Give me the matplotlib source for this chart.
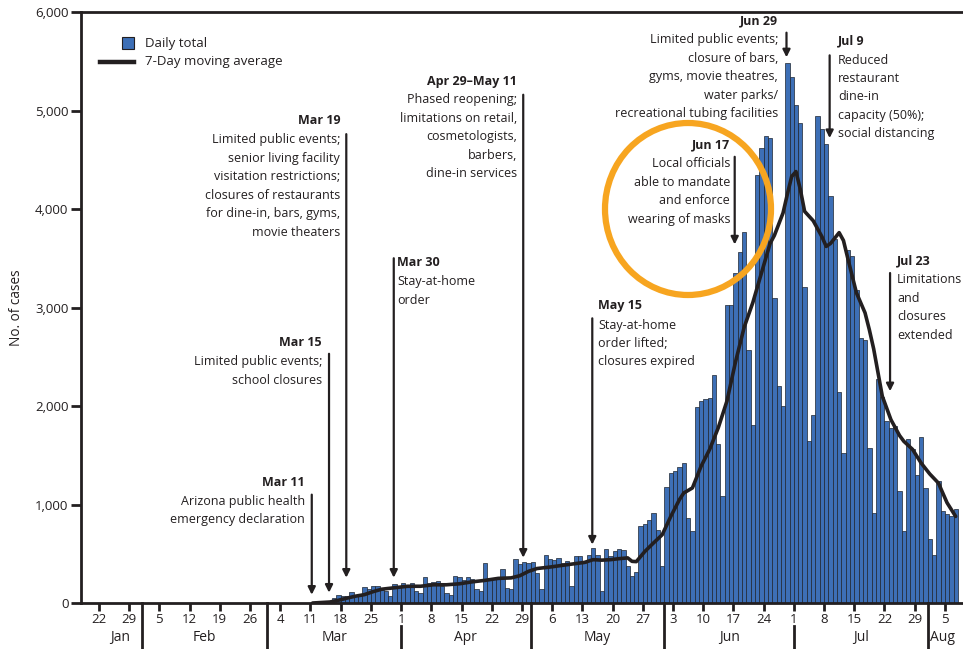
import matplotlib
matplotlib.use("Agg")
import matplotlib.pyplot as plt
import matplotlib.dates as mdates
import matplotlib.transforms as mtransforms
from matplotlib.patches import Rectangle, Ellipse
from matplotlib.lines import Line2D
import pandas as pd

plt.rcParams["font.family"] = ["Open Sans", "DejaVu Sans"]

INK = "#231f20"
BAR = "#3d6fb6"
ORANGE = "#f7a520"

# ── Data ──────────────────────────────────────────────────────────────────────
first_day = "2020-03-11"
daily_cases = [
    # Mar 11 - Mar 31
    2, 4, 6, 8, 15, 51, 78, 68, 68, 111, 74, 74, 162, 142, 169, 169, 128, 118, 74, 189, 169,
    # Apr 1 - Apr 30
    199, 169, 199, 118, 101, 264, 203, 216, 223, 169, 101, 84, 270, 260, 233, 264, 247, 139,
    118, 409, 254, 254, 250, 348, 156, 139, 443, 399, 420, 410,
    # May 1 - May 31
    415, 305, 145, 490, 447, 440, 460, 405, 423, 176, 474, 474, 405, 490, 562, 484, 125, 548,
    474, 524, 548, 541, 372, 270, 311, 785, 805, 846, 914, 745, 379,
    # Jun 1 - Jun 30
    1174, 1320, 1337, 1385, 1418, 863, 727, 1993, 2046, 2074, 2080, 2311, 1611, 1085, 3024,
    3024, 3351, 3568, 3770, 2572, 1810, 4348, 4620, 4740, 4718, 3100, 2200, 2000, 5480, 5340,
    # Jul 1 - Jul 31
    5060, 4870, 3210, 1640, 1912, 4940, 4810, 4660, 4130, 3700, 2140, 1526, 3588, 3520, 3180,
    2690, 2670, 1570, 914, 2274, 2091, 1844, 1777, 1800, 1134, 734, 1668, 1567, 1303, 1685, 1167,
    # Aug 1 - Aug 7
    653, 491, 1235, 931, 907, 880, 954,
]

ma_dates = [
    "2020-03-11", "2020-03-13", "2020-03-15", "2020-03-17", "2020-03-19", "2020-03-21",
    "2020-03-23", "2020-03-25", "2020-03-27", "2020-03-29", "2020-03-31", "2020-04-02",
    "2020-04-05", "2020-04-08", "2020-04-11", "2020-04-14", "2020-04-17", "2020-04-20",
    "2020-04-23", "2020-04-26", "2020-04-28", "2020-04-30", "2020-05-02", "2020-05-05",
    "2020-05-09", "2020-05-13", "2020-05-15", "2020-05-17", "2020-05-19", "2020-05-21",
    "2020-05-23", "2020-05-24", "2020-05-25", "2020-05-27", "2020-05-29", "2020-05-31",
    "2020-06-02", "2020-06-04", "2020-06-05", "2020-06-07", "2020-06-09", "2020-06-11",
    "2020-06-13", "2020-06-15", "2020-06-17", "2020-06-19", "2020-06-21", "2020-06-23",
    "2020-06-25", "2020-06-26", "2020-06-28", "2020-06-29", "2020-06-30", "2020-07-01",
    "2020-07-02", "2020-07-03", "2020-07-05", "2020-07-07", "2020-07-08", "2020-07-09",
    "2020-07-11", "2020-07-12", "2020-07-13", "2020-07-15", "2020-07-17", "2020-07-18",
    "2020-07-19", "2020-07-21", "2020-07-23", "2020-07-25", "2020-07-26", "2020-07-28",
    "2020-07-30", "2020-08-01", "2020-08-03", "2020-08-05", "2020-08-07",
]
ma_values = [
    0, 5, 10, 28, 50, 70,
    85, 115, 140, 150, 160, 170,
    170, 185, 185, 195, 215, 230,
    250, 255, 277, 321, 350, 365,
    389, 412, 440, 435, 440, 450,
    458, 423, 420, 524, 610, 693,
    880, 1050, 1117, 1168, 1387, 1560,
    1780, 2050, 2450, 2800, 3050, 3350,
    3650, 3732, 3960, 4150, 4330, 4380,
    4200, 3976, 3880, 3720, 3620, 3650,
    3760, 3680, 3500, 3150, 2946, 2774,
    2580, 2100, 1861, 1700, 1641, 1560,
    1421, 1310, 1218, 1018, 879,
]

month_names = ["Jan", "Feb", "Mar", "Apr", "May", "Jun", "Jul", "Aug"]
month_edges = ["2020-01-22", "2020-02-01", "2020-03-01", "2020-04-01", "2020-05-01",
               "2020-06-01", "2020-07-01", "2020-08-01", "2020-08-08"]
week_ticks = pd.date_range("2020-01-22", "2020-08-05", freq="7D")

# (arrow date, arrow top, arrow tip, header, body lines, text x px, header y px, align)
events = [
    ("2020-03-11", 1100, 84, "Mar 11",
     ["Arizona public health", "emergency declaration"], 305, 482, "right"),
    ("2020-03-15", 2530, 105, "Mar 15",
     ["Limited public events;", "school closures"], 322, 343, "right"),
    ("2020-03-19", 4760, 257, "Mar 19",
     ["Limited public events;", "senior living facility", "visitation restrictions;",
      "closures of restaurants", "for dine-in, bars, gyms,", "movie theaters"], 340, 121, "right"),
    ("2020-03-30", 3500, 257, "Mar 30",
     ["Stay-at-home", "order"], 397, 263, "left"),
    ("2020-04-29", 5160, 460, "Apr 29\u2013May 11",
     ["Phased reopening;", "limitations on retail,", "cosmetologists,", "barbers,",
      "dine-in services"], 517, 81, "right"),
    ("2020-05-15", 2890, 593, "May 15",
     ["Stay-at-home", "order lifted;", "closures expired"], 598, 306, "left"),
    ("2020-06-17", 4530, 3640, "Jun 17",
     ["Local officials", "able to mandate", "and enforce", "wearing of masks"], 730, 145, "right"),
    ("2020-06-29", 5790, 5540, "Jun 29",
     ["Limited public events;", "closure of bars,", "gyms, movie theatres,", "water parks/",
      "recreational tubing facilities"], 778, 21, "right"),
    ("2020-07-09", 5560, 4720, "Jul 9",
     ["Reduced", "restaurant", "dine-in", "capacity (50%);", "social distancing"], 838, 41, "left"),
    ("2020-07-23", 3350, 2150, "Jul 23",
     ["Limitations", "and", "closures", "extended"], 897, 261, "left"),
]

# ── Figure ────────────────────────────────────────────────────────────────────
W, H = 963, 649
fig = plt.figure(figsize=(W / 100, H / 100), dpi=100)
ax = fig.add_axes([81 / W, 46 / H, (W - 81) / W, (603 - 12) / H])

dates = pd.date_range(first_day, periods=len(daily_cases), freq="D")
xd = mdates.date2num(dates)
ax.bar(xd, daily_cases, width=1.0, align="edge", color=BAR,
       edgecolor="#1e2530", linewidth=0.5, zorder=2)

ma_x = mdates.date2num(pd.to_datetime(ma_dates)) + 0.5
ax.plot(ma_x, ma_values, color=INK, lw=2.6, solid_joinstyle="round",
        solid_capstyle="round", zorder=4)

day0 = mdates.date2num(pd.Timestamp("2020-01-22"))
ax.set_xlim(day0 - 4.17, day0 + 200.2)
ax.set_ylim(0, 6000)

for side in ["left", "bottom", "top"]:
    ax.spines[side].set_color(INK)
    ax.spines[side].set_linewidth(2)
ax.spines["right"].set_visible(False)

ax.set_yticks(range(0, 6001, 1000))
ax.set_yticklabels([f"{v:,}" for v in range(0, 6001, 1000)])
ax.tick_params(axis="y", direction="out", length=7, width=2, color=INK,
               labelsize=9.5, labelcolor=INK, pad=2)

ax.set_xticks(mdates.date2num(week_ticks))
ax.set_xticklabels([str(d.day) for d in week_ticks])
ax.tick_params(axis="x", direction="out", length=6, width=2, color=INK,
               labelsize=9.5, labelcolor=INK, pad=1)

# month separators and month names below the axis
trans = mtransforms.blended_transform_factory(ax.transData, ax.transAxes)
edges = mdates.date2num(pd.to_datetime(month_edges))
tick_set = set(mdates.date2num(week_ticks))
for e in edges[1:-1]:
    top = -0.039 if e in tick_set else 0.0
    ax.plot([e, e], [top, -0.08], color=INK, lw=2, transform=trans, clip_on=False)
for name, a, b in zip(month_names, edges[:-1], edges[1:]):
    ax.text((a + b) / 2, -0.059, name, transform=trans, ha="center", va="center",
            fontsize=10, color=INK)

ax.set_ylabel("No. of cases", fontsize=9.8, color=INK, labelpad=8)

# legend
fig.patches.append(Rectangle((122 / W, 1 - 49 / H), 12 / W, 12 / H, transform=fig.transFigure,
                             facecolor=BAR, edgecolor=INK, linewidth=0.8))
fig.lines.append(Line2D([100 / W, 134 / W], [1 - 62 / H, 1 - 62 / H], transform=fig.transFigure,
                        color=INK, lw=3.2))
fig.text(145 / W, 1 - 43 / H, "Daily total", fontsize=9.5, color=INK, va="center")
fig.text(145 / W, 1 - 62 / H, "7-Day moving average", fontsize=9.5, color=INK, va="center")

# event annotations
for when, y_top, y_tip, head, body, tx, ty, ha in events:
    xa = mdates.date2num(pd.Timestamp(when)) + 0.3
    ax.annotate("", xy=(xa, y_tip), xytext=(xa, y_top),
                arrowprops=dict(arrowstyle="-|>", color=INK, lw=1.6, mutation_scale=11,
                                shrinkA=0, shrinkB=0), zorder=5)
    fig.text(tx / W, 1 - ty / H, head, fontsize=9, fontweight="bold", color=INK,
             ha=ha, va="center")
    for i, line in enumerate(body):
        fig.text(tx / W, 1 - (ty + 19 + 18.4 * i) / H, line, fontsize=9, color=INK,
                 ha=ha, va="center")

# highlight circle around the Jun 17 note
fig.patches.append(Ellipse((688 / W, 1 - 209 / H), 166 / W, 172 / H, transform=fig.transFigure,
                           fill=False, edgecolor=ORANGE, linewidth=4.5, zorder=6))

fig.savefig("out.png", dpi=100)
